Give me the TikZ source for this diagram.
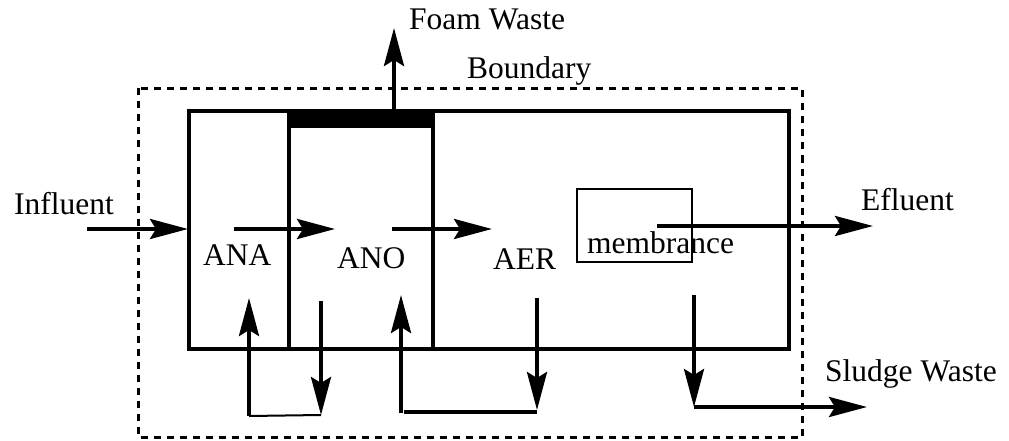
\documentclass[tikz,border=0pt]{standalone}
\usepackage{fontspec}
\setmainfont{Liberation Serif}
\usetikzlibrary{arrows.meta}
\begin{document}
\begin{tikzpicture}[x=1pt,y=-1pt,
  lbl/.style={anchor=base west,inner sep=0pt,font=\fontsize{31.5}{36}\selectfont},
  wall/.style={line width=4pt,line cap=rect},
  flow/.style={line width=4pt,-{Stealth[length=38pt,width=20pt,inset=6pt]}},
  pipe/.style={line width=4pt},
  thinpipe/.style={line width=2pt},
  bnd/.style={line width=3pt,dash pattern=on 7pt off 6pt},
  memb/.style={line width=2pt}]
\useasboundingbox (0,0) rectangle (1009,441);
% boundary
\draw[bnd] (138,88.5) rectangle (802,437);
% tank
\draw[wall] (189,111) rectangle (789,349);
\fill (289,111) rectangle (433,128);
\draw[wall] (289,111) -- (289,349);
\draw[wall] (433,111) -- (433,349);
% membrane box
\draw[memb] (577,189) rectangle (692,262);
% labels
\node[lbl] (influent) at (14,214) {Influent};
\node[lbl] (ana) at (203,265) {ANA};
\node[lbl] (ano) at (337,268) {ANO};
\node[lbl] (aer) at (493,269) {AER};
\node[lbl] (membr) at (587,253) {membrance};
\node[lbl] (efluent) at (861,210) {Efluent};
\node[lbl] (sludge) at (825,381) {Sludge Waste};
\node[lbl] (foam) at (409,30) {Foam Waste};
\node[lbl] (boundary) at (467,79) {Boundary};
% coordinates
\coordinate (inS) at (87,229);   \coordinate (inE) at (188,229);
\coordinate (aS) at (234,229);   \coordinate (aE) at (335,229);
\coordinate (bS) at (392,229);   \coordinate (bE) at (492,229);
\coordinate (eS) at (657,226);   \coordinate (eE) at (873,226);
\coordinate (fS) at (394,111);   \coordinate (fE) at (394,28);
\coordinate (l1) at (249,416);   \coordinate (l2) at (249,298);
\coordinate (l3) at (321,301);   \coordinate (l4) at (321,415);
\coordinate (r1) at (401,413);   \coordinate (r2) at (401,295);
\coordinate (r3) at (537,298);   \coordinate (r4) at (537,410);
\coordinate (r5) at (404,412);   \coordinate (r6) at (537,412);
\coordinate (s1) at (694,295);   \coordinate (s2) at (694,407);
\coordinate (s3) at (867,407);
% flows
\draw[flow] (inS) -- (inE);
\draw[flow] (aS) -- (aE);
\draw[flow] (bS) -- (bE);
\draw[flow] (eS) -- (eE);
\draw[flow] (fS) -- (fE);
\draw[flow] (l1) -- (l2);
\draw[flow] (l3) -- (l4);
\draw[thinpipe] (l1) -- (l4);
\draw[flow] (r1) -- (r2);
\draw[flow] (r3) -- (r4);
\draw[pipe] (r5) -- (r6);
\draw[flow] (s1) -- (s2);
\draw[flow] (s2) -- (s3);
\end{tikzpicture}
\end{document}
